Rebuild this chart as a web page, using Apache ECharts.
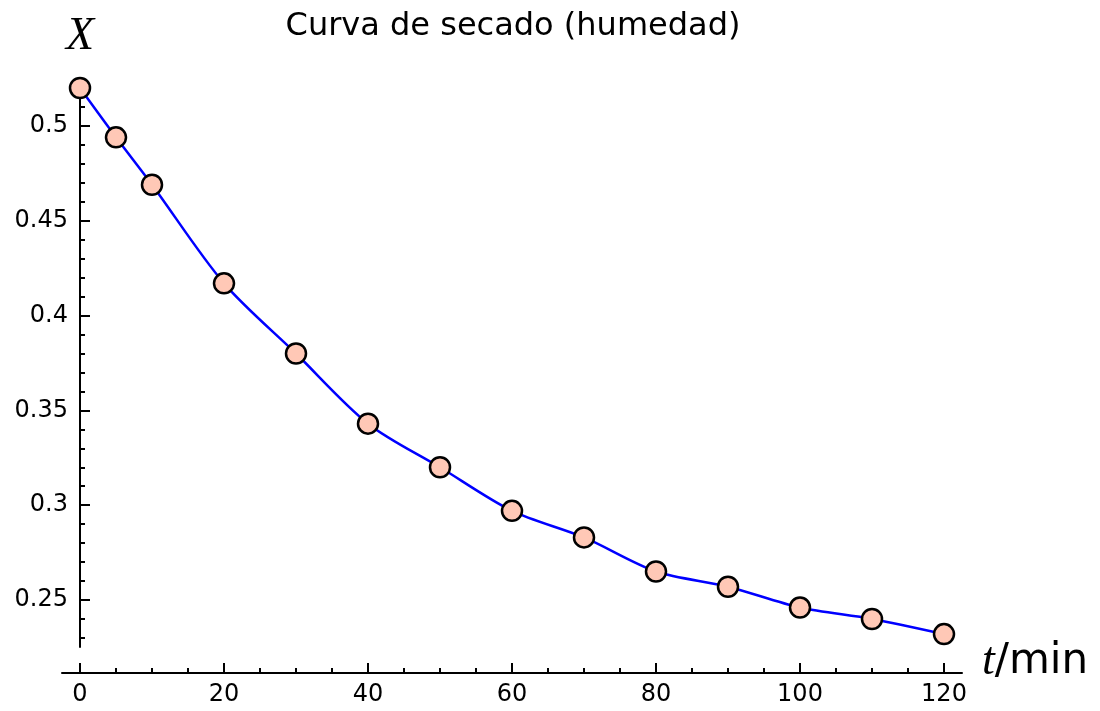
<!DOCTYPE html>
<html lang="es" style="background: #FFFFFF;height: 100%">
<head>
  <meta charset="utf-8" />
  <title>Curva de secado</title>
  <script type="text/javascript" src="https://cdn.jsdelivr.net/npm/echarts@6/dist/echarts.min.js"></script>
</head>
<body style="margin: 0;height: 100%">
<div id="chart" style="width: 1100px;height: 711px"></div>
<script type="text/javascript">
    // datos (t en min, X humedad)
    const tiempos = [0, 5, 10, 20, 30, 40, 50, 60, 70, 80, 90, 100, 110, 120]
    const humedad = [0.520, 0.494, 0.469, 0.417, 0.380, 0.343, 0.320, 0.297, 0.283, 0.265, 0.257, 0.246, 0.240, 0.232]

    // marcas de los ejes
    const xTicks = [0, 20, 40, 60, 80, 100, 120]
    const xMinorTicks = [5, 10, 15, 25, 30, 35, 45, 50, 55, 65, 70, 75, 85, 90, 95, 105, 110, 115]
    const yTicks = [0.25, 0.3, 0.35, 0.4, 0.45, 0.5]
    const yMinorTicks = [0.23, 0.24, 0.26, 0.27, 0.28, 0.29, 0.31, 0.32, 0.33, 0.34, 0.36, 0.37, 0.38, 0.39,
        0.41, 0.42, 0.43, 0.44, 0.46, 0.47, 0.48, 0.49, 0.51, 0.52]

    const font = 'DejaVu Sans'
    const xMin = -2.5, xMax = 122.5
    const yMin = 0.2252, yMax = 0.5253

    const chart = echarts.init(document.getElementById('chart'))

    const xBase = {
        type: 'value', min: xMin, max: xMax, position: 'bottom', offset: 26,
        splitLine: { show: false }
    }
    const yBase = {
        type: 'value', min: yMin, max: yMax, position: 'left', offset: -18,
        splitLine: { show: false }
    }
    const tickStyle = { color: '#000', width: 2 }

    chart.setOption({
        animation: false,
        title: {
            text: 'Curva de secado (humedad)',
            left: 508, top: 6, textAlign: 'center',
            textStyle: { fontFamily: font, fontSize: 32, fontWeight: 'normal', color: '#000' }
        },
        grid: { left: 62, right: 138, top: 78, bottom: 64 },
        xAxis: [
            Object.assign({}, xBase, {
                axisLine: { onZero: false, lineStyle: { color: '#000', width: 2 } },
                axisTick: { inside: true, length: 10, customValues: xTicks, lineStyle: tickStyle },
                axisLabel: { customValues: xTicks, margin: 10, color: '#000', fontFamily: font, fontSize: 24 },
                name: '{i|t}{r|/min}',
                nameLocation: 'end',
                nameGap: 20,
                nameTextStyle: {
                    align: 'left', verticalAlign: 'bottom',
                    rich: {
                        i: { fontFamily: 'Liberation Serif', fontStyle: 'italic', fontSize: 46, lineHeight: 22, color: '#000' },
                        r: { fontFamily: font, fontSize: 42, lineHeight: 22, color: '#000' }
                    }
                }
            }),
            Object.assign({}, xBase, {
                axisLine: { show: false, onZero: false },
                axisTick: { inside: true, length: 5, customValues: xMinorTicks, lineStyle: tickStyle },
                axisLabel: { show: false }
            })
        ],
        yAxis: [
            Object.assign({}, yBase, {
                axisLine: { show: true, onZero: false, lineStyle: { color: '#000', width: 2 } },
                axisTick: { show: true, inside: true, length: 10, customValues: yTicks, lineStyle: tickStyle },
                axisLabel: { customValues: yTicks, margin: 12, color: '#000', fontFamily: font, fontSize: 24 },
                name: 'X',
                nameLocation: 'end',
                nameGap: 18,
                nameTextStyle: { fontFamily: 'Liberation Serif', fontStyle: 'italic', fontSize: 46, color: '#000', align: 'center' }
            }),
            Object.assign({}, yBase, {
                axisLine: { show: false, onZero: false },
                axisTick: { show: true, inside: true, length: 5, customValues: yMinorTicks, lineStyle: tickStyle },
                axisLabel: { show: false }
            })
        ],
        series: [{
            type: 'line',
            xAxisIndex: 0,
            yAxisIndex: 0,
            data: tiempos.map((t, i) => [t, humedad[i]]),
            smooth: 0.3,
            symbol: 'circle',
            symbolSize: 20,
            lineStyle: { color: '#0000ff', width: 2.5 },
            itemStyle: { color: '#ffc8b6', borderColor: '#000', borderWidth: 2.5 }
        }]
    })

    window.addEventListener('resize', () => {
        chart.resize()
    })
</script>
</body>
</html>
